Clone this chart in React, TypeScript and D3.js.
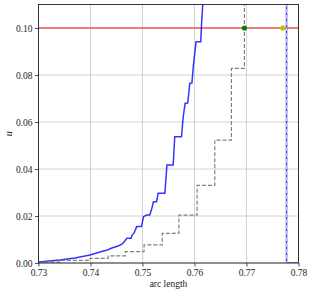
import React, { useRef, useEffect } from 'react';
import * as d3 from 'd3';

// blue curve: vertices (arc length, u)
const blueArc = [0.73, 0.7341, 0.737, 0.7399, 0.7418, 0.7432, 0.7441, 0.7453, 0.7461, 0.7466, 0.747, 0.7478, 0.748, 0.7484, 0.7486, 0.7489, 0.7498, 0.7502, 0.7508, 0.7514, 0.7518, 0.7521, 0.7527, 0.753, 0.7543, 0.7547, 0.7559, 0.7562, 0.7575, 0.7578, 0.7582, 0.7587, 0.7591, 0.7595, 0.7598, 0.7603, 0.7612, 0.7614, 0.762, 0.7777, 0.7777, 0.785];
const blueU = [0.0004, 0.0013, 0.0021, 0.0034, 0.0047, 0.0055, 0.0064, 0.0072, 0.0081, 0.0094, 0.0105, 0.0105, 0.0119, 0.0128, 0.014, 0.0155, 0.0155, 0.0197, 0.0204, 0.0204, 0.0233, 0.0261, 0.0261, 0.0297, 0.0297, 0.0417, 0.0417, 0.0537, 0.0537, 0.0616, 0.068, 0.0681, 0.0765, 0.0766, 0.0843, 0.0942, 0.0942, 0.1034, 0.125, 0.2, 0, 0];

// gray dashed step curve: step start positions and levels
const grayArc = [0.73, 0.7341, 0.7399, 0.7434, 0.7467, 0.7503, 0.7538, 0.757, 0.7605, 0.7639, 0.7671, 0.7696];
const grayU = [0.0004, 0.0011, 0.002, 0.003, 0.0048, 0.0077, 0.0126, 0.0204, 0.033, 0.0523, 0.0828, 0.2];
const grayTail = [[0.7777, 0.2], [0.7777, 0], [0.785, 0]];

const xTicks = [0.73, 0.74, 0.75, 0.76, 0.77, 0.78];
const yTicks = [0, 0.02, 0.04, 0.06, 0.08, 0.1];
const threshold = 0.1;
const greenPt = [0.7696, 0.1];
const yellowPt = [0.777, 0.1];

const W = 312, H = 293;
const margin = { top: 4.5, right: 13.5, bottom: 30, left: 38.5 };

function Chart() {
    const ref = useRef(null);

    useEffect(() => {
        const width = W - margin.left - margin.right;
        const height = H - margin.top - margin.bottom;
        const font = '"Liberation Serif", "DejaVu Serif", serif';

        const root = d3.select(ref.current);
        root.selectAll('*').remove();

        const x = d3.scaleLinear().domain([0.73, 0.78]).range([0, width]);
        const y = d3.scaleLinear().domain([0, 0.11]).range([height, 0]);

        root.append('defs').append('clipPath').attr('id', 'plotclip')
            .append('rect').attr('width', width).attr('height', height);

        const g = root.append('g').attr('transform', `translate(${margin.left},${margin.top})`);

        // grid
        g.selectAll('.gx').data(xTicks).enter().append('line')
            .attr('x1', d => x(d)).attr('x2', d => x(d))
            .attr('y1', 0).attr('y2', height)
            .attr('stroke', '#b0b0b0').attr('stroke-width', 0.8).attr('opacity', 0.7);
        g.selectAll('.gy').data(yTicks).enter().append('line')
            .attr('x1', 0).attr('x2', width)
            .attr('y1', d => y(d)).attr('y2', d => y(d))
            .attr('stroke', '#b0b0b0').attr('stroke-width', 0.8).attr('opacity', 0.7);

        const plot = g.append('g').attr('clip-path', 'url(#plotclip)');

        // threshold line
        plot.append('line')
            .attr('x1', 0).attr('x2', width)
            .attr('y1', y(threshold)).attr('y2', y(threshold))
            .attr('stroke', '#ff3030').attr('stroke-opacity', 0.8).attr('stroke-width', 1.5);

        const line = d3.line().x(d => x(d[0])).y(d => y(d[1]));

        const bluePts = blueArc.map((a, i) => [a, blueU[i]]);
        plot.append('path').datum(bluePts)
            .attr('d', line)
            .attr('fill', 'none').attr('stroke', '#0000ff').attr('stroke-opacity', 0.8)
            .attr('stroke-width', 1.5);

        const grayPts = grayArc.map((a, i) => [a, grayU[i]]).concat(grayTail);
        const stepLine = d3.line().x(d => x(d[0])).y(d => y(d[1]));
        // step curve for the first part, then straight tail
        const stepPart = d3.line().x(d => x(d[0])).y(d => y(d[1])).curve(d3.curveStepAfter);
        plot.append('path').datum(grayPts.slice(0, grayArc.length))
            .attr('d', stepPart)
            .attr('fill', 'none').attr('stroke', '#808080')
            .attr('stroke-width', 1.2).attr('stroke-dasharray', '4,2');
        plot.append('path').datum(grayTail)
            .attr('d', stepLine)
            .attr('fill', 'none').attr('stroke', '#c0c0c0')
            .attr('stroke-width', 1.0).attr('stroke-dasharray', '4,2');

        plot.append('circle').attr('cx', x(greenPt[0])).attr('cy', y(greenPt[1]))
            .attr('r', 2.6).attr('fill', 'green');
        plot.append('circle').attr('cx', x(yellowPt[0])).attr('cy', y(yellowPt[1]))
            .attr('r', 2.6).attr('fill', '#bfbf00');

        // axes
        const xAxis = g.append('g').attr('transform', `translate(0,${height})`)
            .call(d3.axisBottom(x).tickValues(xTicks).tickFormat(d3.format('.2f')).tickSizeOuter(0).tickSize(3.5).tickPadding(2.5));
        const yAxis = g.append('g')
            .call(d3.axisLeft(y).tickValues(yTicks).tickFormat(d3.format('.2f')).tickSizeOuter(0).tickSize(3.5).tickPadding(2.5));
        [xAxis, yAxis].forEach(ax => {
            ax.select('.domain').remove();
            ax.selectAll('line').attr('stroke', '#222').attr('stroke-width', 0.8);
            ax.selectAll('text').attr('font-family', font).attr('font-size', 9.5).attr('fill', '#222');
        });

        g.append('rect').attr('width', width).attr('height', height)
            .attr('fill', 'none').attr('stroke', '#222').attr('stroke-width', 0.9);

        g.append('text')
            .attr('x', width / 2).attr('y', height + 24)
            .attr('text-anchor', 'middle')
            .attr('font-family', font).attr('font-size', 9.5).attr('fill', '#222')
            .text('arc length');

        g.append('text')
            .attr('transform', `translate(${-27},${height / 2}) rotate(-90)`)
            .attr('text-anchor', 'middle')
            .attr('font-family', font).attr('font-style', 'italic').attr('font-size', 10).attr('fill', '#222')
            .text('u');
    }, []);

    return <svg ref={ref} width={W} height={H} style={{ position: 'absolute', left: 0, top: 0, background: '#fff' }} />;
}

export default function App() {
    return <Chart />;
}
